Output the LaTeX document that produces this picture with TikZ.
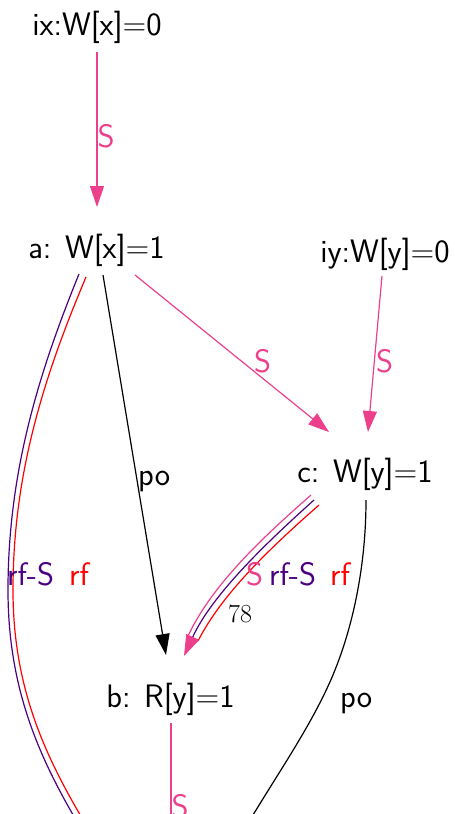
\documentclass[tikz,border=0pt]{standalone}
\usetikzlibrary{arrows.meta,calc}
\definecolor{pinkc}{RGB}{236,64,140}
\definecolor{purc}{RGB}{75,0,130}
\definecolor{redc}{RGB}{255,0,0}
\begin{document}
\begin{tikzpicture}[x=1pt,y=-1pt,
  font=\sffamily\fontsize{32.5}{38}\selectfont,
  ev/.style={inner sep=0pt, anchor=base},
  lab/.style={inner sep=0pt, anchor=base west},
  edg/.style={line width=1.2pt},
  tipped/.style={-{Triangle[length=21pt,width=14pt]}}]
\useasboundingbox (0,0) rectangle (455,814);
\clip (0,0) rectangle (455,814);

% events
\node[ev] (ix) at (97,35) {ix:W[x]=0};
\node[ev] (a) at (96.5,258) {a:\hspace{0.42em}W[x]=1};
\node[ev] (iy) at (385,262) {iy:W[y]=0};
\node[ev] (c) at (365,482) {c:\hspace{0.42em}W[y]=1};
\node[ev] (b) at (170.5,707) {b:\hspace{0.42em}R[y]=1};

% ix -> a
\draw[edg,pinkc,tipped] ($(ix.base)+(0,17)$) -- ($(a.base)+(0.5,-51)$);
% a -> c
\draw[edg,pinkc,tipped] ($(a.base)+(38.5,17)$) -- ($(c.base)+(-36,-50)$);
% iy -> c
\draw[edg,pinkc,tipped] ($(iy.base)+(-3,14)$) -- ($(c.base)+(3,-50)$);
% a -> b (po)
\draw[edg,black,tipped] ($(a.base)+(6.5,17)$) -- ($(b.base)+(-4.5,-52)$);

% c -> b triple (S, rf-S, rf)
\draw[edg,pinkc] ($(c.base)+(-54,13)$) .. controls (261,539) and (212,585) .. ($(b.base)+(17.5,-71)$);
\draw[edg,redc] ($(c.base)+(-46,23)$) .. controls (269,549) and (222,594) .. ($(b.base)+(27.5,-66)$);
\draw[edg,purc,-{Triangle[length=21pt,width=14pt,color=pinkc]}] ($(c.base)+(-51,18)$) .. controls (265,544) and (212,595) .. ($(b.base)+(13.5,-51)$);

% a -> below (rf-S, rf)
\draw[edg,purc] ($(a.base)+(-17.5,16)$) .. controls (40,370) and (8,470) .. (8,590)
   .. controls (8,690) and (40,760) .. (82,830);
\draw[edg,redc] ($(a.base)+(-10.5,19)$) .. controls (46,372) and (13,470) .. (13,590)
   .. controls (13,688) and (45,757) .. (88,828);

% b -> below (S)
\draw[edg,pinkc] ($(b.base)+(0.5,16)$) -- ($(b.base)+(0.5,130)$) coordinate (bS);
% c -> below (po)
\draw[edg,black] ($(c.base)+(1,18)$) .. controls (366,560) and (355,620) .. (335,670)
   .. controls (315,720) and (280,770) .. (250,820);

% labels
\node[lab,text=pinkc] (l1) at (97.5,147) {S};
\node[lab,text=pinkc] (l2) at (254,372) {S};
\node[lab,text=pinkc] (l3) at (376,372) {S};
\node[lab] (l4) at (138,485) {po};
\node[lab,text=pinkc] (l5) at (246,585) {S};
\node[lab,text=purc] (l6) at (269,585) {rf-S};
\node[lab,text=redc] (l7) at (330,585) {rf};
\node[lab,font=\rmfamily\fontsize{26}{30}\selectfont] (l8) at (228,622) {78};
\node[lab,text=purc] (l9) at (7,585) {rf-S};
\node[lab,text=redc] (l10) at (69,585) {rf};
\node[lab] (l11) at (340,707) {po};
\node[lab,text=pinkc] (l12) at (171.5,817) {S};
\end{tikzpicture}
\end{document}
